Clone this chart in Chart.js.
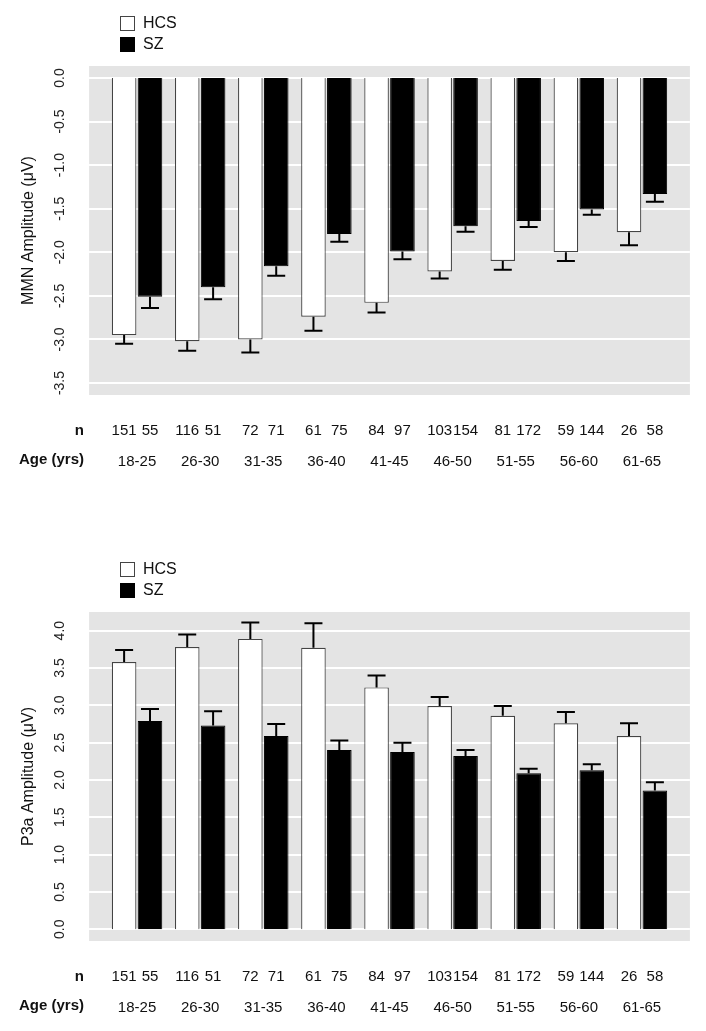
<!DOCTYPE html>
<html lang="en">
<head>
    <meta charset="UTF-8">
    <title>MMN and P3a by age</title>
    <script src="https://cdn.jsdelivr.net/npm/chart.js"></script>
    <style>
        body { margin: 0; background: #fff; }
        .wrap { position: relative; width: 706px; height: 1031px; }
        canvas { position: absolute; left: 0; }
        #mmn-chart { top: 0; }
        #p3a-chart { top: 546px; }
    </style>
</head>
<body>
    <div class="wrap">
        <canvas id="mmn-chart" width="706" height="485"></canvas>
        <canvas id="p3a-chart" width="706" height="485"></canvas>
    </div>

    <script>
        // data
        const ageGroups = ['18-25', '26-30', '31-35', '36-40', '41-45', '46-50', '51-55', '56-60', '61-65'];
        const hcsN = [151, 116, 72, 61, 84, 103, 81, 59, 26];
        const szN = [55, 51, 71, 75, 97, 154, 172, 144, 58];

        const mmnHcs = [-2.95, -3.02, -3.00, -2.74, -2.58, -2.22, -2.10, -2.00, -1.77];
        const mmnHcsErr = [0.10, 0.11, 0.15, 0.16, 0.11, 0.08, 0.10, 0.10, 0.15];
        const mmnSz = [-2.51, -2.40, -2.16, -1.79, -1.99, -1.70, -1.64, -1.51, -1.33];
        const mmnSzErr = [0.13, 0.14, 0.11, 0.09, 0.09, 0.065, 0.07, 0.06, 0.09];

        const p3aHcs = [3.58, 3.78, 3.89, 3.77, 3.24, 2.99, 2.86, 2.76, 2.59];
        const p3aHcsErr = [0.16, 0.17, 0.22, 0.33, 0.16, 0.12, 0.13, 0.15, 0.17];
        const p3aSz = [2.79, 2.73, 2.59, 2.40, 2.375, 2.32, 2.09, 2.13, 1.86];
        const p3aSzErr = [0.16, 0.19, 0.16, 0.13, 0.125, 0.08, 0.06, 0.08, 0.11];

        const FONT = '"Liberation Sans", Arial, sans-serif';
        Chart.defaults.font.family = FONT;
        Chart.defaults.color = '#111';

        // grey panel, white grid, error bars, legend and the n / age rows
        const panelPlugin = {
            id: 'panel',
            beforeDatasetsDraw(chart) {
                const { ctx, chartArea: a, scales: { y } } = chart;
                const ext = a.width / ageGroups.length * 0.26;
                ctx.save();
                ctx.fillStyle = '#e4e4e4';
                ctx.fillRect(a.left - ext, a.top, a.width + 2 * ext, a.height);
                ctx.strokeStyle = '#ffffff';
                ctx.lineWidth = 2;
                y.ticks.forEach(t => {
                    const py = Math.round(y.getPixelForValue(t.value));
                    ctx.beginPath();
                    ctx.moveTo(a.left - ext, py);
                    ctx.lineTo(a.right + ext, py);
                    ctx.stroke();
                });
                ctx.restore();
            },
            afterDatasetsDraw(chart, args, opts) {
                const { ctx, scales: { y } } = chart;
                ctx.save();
                ctx.strokeStyle = '#000';
                ctx.lineWidth = 2;
                chart.data.datasets.forEach((ds, di) => {
                    const meta = chart.getDatasetMeta(di);
                    meta.data.forEach((bar, i) => {
                        const v = ds.data[i];
                        const e = opts.errors[di][i];
                        const end = v < 0 ? v - e : v + e;
                        const py = y.getPixelForValue(end);
                        ctx.beginPath();
                        ctx.moveTo(bar.x, bar.y);
                        ctx.lineTo(bar.x, py);
                        ctx.moveTo(bar.x - 9, py);
                        ctx.lineTo(bar.x + 9, py);
                        ctx.stroke();
                    });
                });
                ctx.restore();
            },
            afterDraw(chart) {
                const { ctx, chartArea: a } = chart;
                ctx.save();

                // legend
                ctx.lineWidth = 1;
                ctx.strokeStyle = '#444';
                ctx.fillStyle = '#fff';
                ctx.fillRect(120, 16, 14, 14);
                ctx.strokeRect(120.5, 16.5, 14, 14);
                ctx.fillStyle = '#000';
                ctx.fillRect(120, 37, 15, 15);
                ctx.font = '16px ' + FONT;
                ctx.textBaseline = 'middle';
                ctx.textAlign = 'left';
                ctx.fillStyle = '#111';
                ctx.fillText('HCS', 143, 24);
                ctx.fillText('SZ', 143, 45);

                // n row under each bar
                ctx.font = '15px ' + FONT;
                ctx.textAlign = 'center';
                const counts = [hcsN, szN];
                chart.data.datasets.forEach((ds, di) => {
                    chart.getDatasetMeta(di).data.forEach((bar, i) => {
                        ctx.fillText(String(counts[di][i]), bar.x, a.bottom + 36);
                    });
                });

                // row headers
                ctx.font = 'bold 15px ' + FONT;
                ctx.textAlign = 'right';
                ctx.fillText('n', 84, a.bottom + 36);
                ctx.fillText('Age (yrs)', 84, a.bottom + 65);
                ctx.restore();
            }
        };

        function makeChart(id, hcs, sz, hcsErr, szErr, yMin, yMax, yTitle, tickPad) {
            return new Chart(document.getElementById(id).getContext('2d'), {
                type: 'bar',
                data: {
                    labels: ageGroups,
                    datasets: [
                        {
                            label: 'HCS',
                            data: hcs,
                            backgroundColor: '#ffffff',
                            borderColor: '#444',
                            borderWidth: 1.2,
                            categoryPercentage: 0.82,
                            barPercentage: 0.95
                        },
                        {
                            label: 'SZ',
                            data: sz,
                            backgroundColor: '#000000',
                            borderColor: '#000000',
                            borderWidth: 1,
                            categoryPercentage: 0.82,
                            barPercentage: 0.95
                        }
                    ]
                },
                options: {
                    responsive: false,
                    animation: false,
                    layout: { padding: { top: 66, right: 32.5, bottom: 10, left: 0 } },
                    plugins: {
                        legend: { display: false },
                        tooltip: { enabled: false },
                        panel: { errors: [hcsErr, szErr] }
                    },
                    scales: {
                        x: {
                            // invisible tick marks push the age labels down
                            grid: {
                                display: true,
                                drawOnChartArea: false,
                                drawTicks: true,
                                tickLength: 58,
                                color: 'rgba(0,0,0,0)'
                            },
                            border: { display: false },
                            ticks: {
                                font: { size: 15 },
                                color: '#111',
                                padding: 0,
                                autoSkip: false,
                                maxRotation: 0
                            },
                            afterFit(s) { s.height = 80; }
                        },
                        y: {
                            min: yMin,
                            max: yMax,
                            grid: { display: false },
                            border: { display: false },
                            ticks: {
                                stepSize: 0.5,
                                includeBounds: false,
                                minRotation: 90,
                                maxRotation: 90,
                                crossAlign: 'center',
                                padding: tickPad,
                                font: { size: 14 },
                                color: '#222',
                                callback: v => v.toFixed(1)
                            },
                            title: {
                                display: true,
                                text: yTitle,
                                font: { size: 16 },
                                color: '#111',
                                padding: { top: 19, bottom: 0 }
                            },
                            afterFit(s) { s.width = 105.5; }
                        }
                    }
                },
                plugins: [panelPlugin]
            });
        }

        makeChart('mmn-chart', mmnHcs, mmnSz, mmnHcsErr, mmnSzErr, -3.637, 0.137, 'MMN Amplitude (\u03bcV)', 25);
        makeChart('p3a-chart', p3aHcs, p3aSz, p3aHcsErr, p3aSzErr, -0.157, 4.25, 'P3a Amplitude (\u03bcV)', 28);
    </script>
</body>
</html>
